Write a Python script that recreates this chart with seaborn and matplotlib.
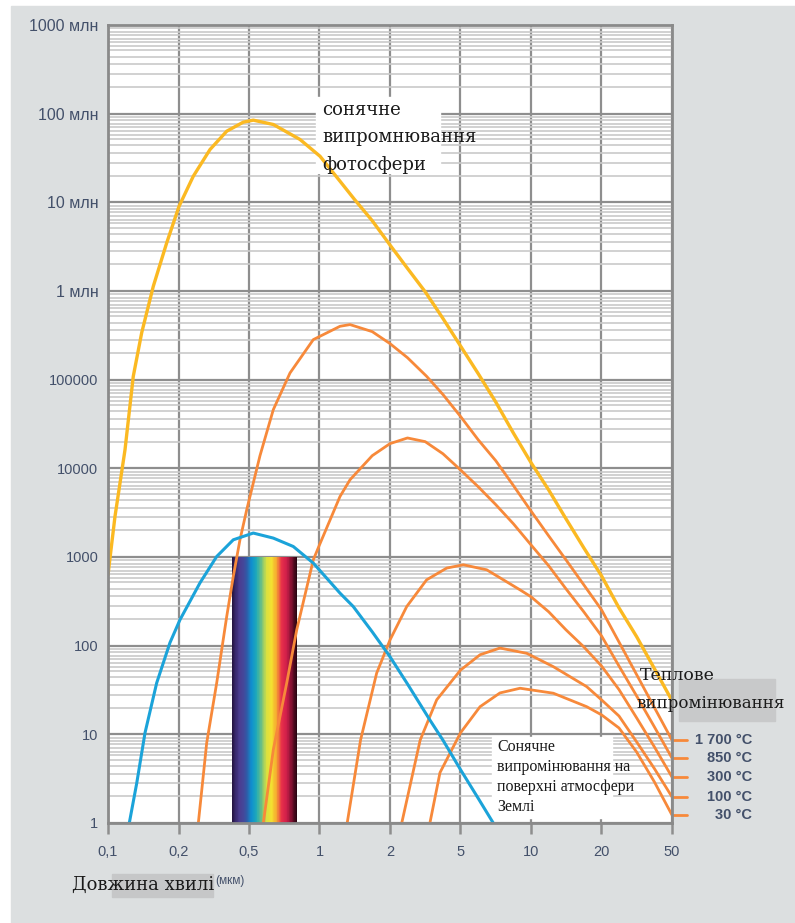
import numpy as np
import seaborn as sns
import matplotlib.pyplot as plt
from matplotlib.patches import Rectangle
from matplotlib.colors import LinearSegmentedColormap
from matplotlib.ticker import LogLocator, NullLocator
from matplotlib.transforms import blended_transform_factory

# axis ticks (x axis: 1-2-5 steps drawn at equal spacing)
x_ticks = [0.1, 0.2, 0.5, 1, 2, 5, 10, 20, 50]
x_tick_labels = ['0,1', '0,2', '0,5', '1', '2', '5', '10', '20', '50']
y_ticks = [1, 10, 100, 1e3, 1e4, 1e5, 1e6, 1e7, 1e8, 1e9]
y_tick_labels = ['1', '10', '100', '1000', '10000', '100000',
                 '1 млн', '10 млн', '100 млн', '1000 млн']

# sun photosphere (yellow)
wl_sun = [0.1, 0.1071, 0.1182, 0.1282, 0.1393, 0.1561, 0.1781, 0.2013, 0.2424, 0.3012,
          0.3742, 0.4642, 0.5214, 0.635, 0.8253, 1.005, 1.2235, 1.41, 1.68, 2, 2.51,
          3.16, 3.98, 5, 5.95, 7.07, 8.41, 10, 11.9, 14.1, 16.8, 20, 25.1, 31.6, 39.8, 50]
sun = [630, 2860, 1.62e4, 1.09e5, 3.39e5, 1.13e6, 3.49e6, 9.0e6, 1.97e7, 3.94e7,
       6.34e7, 8.02e7, 8.45e7, 7.55e7, 5.12e7, 3.31e7, 1.73e7, 1.08e7, 6.2e6, 3.3e6, 1.8e6,
       9.8e5, 4.9e5, 2.4e5, 1.17e5, 5.6e4, 2.5e4, 1.16e4, 5.7e3, 2.7e3, 1.27e3, 614, 267,
       126, 55, 24]

# sun at the earth surface (blue)
wl_earth = [0.1233, 0.1326, 0.1439, 0.1614, 0.1839, 0.2039, 0.2646, 0.3286, 0.4076,
            0.5214, 0.635, 0.7726, 0.941, 1.2235, 1.394, 1.68, 2, 2.51, 3.36, 3.98, 5,
            5.95, 6.9]
earth = [1, 2.8, 10.4, 38, 108, 196, 512, 1013, 1563,
         1862, 1634, 1314, 853, 391, 276, 143, 75, 37, 14.5, 8.6, 4,
         1.9, 1]

# thermal radiation (orange)
wl_1700 = [0.2588, 0.2885, 0.3286, 0.3742, 0.4076, 0.4446, 0.4854, 0.5571, 0.635, 0.7483,
           0.941, 1.2235, 1.35, 1.68, 2, 2.51, 3.22, 3.98, 5, 5.95, 7.07, 8.41, 10, 11.9,
           14.1, 16.8, 20, 25.1, 31.6, 39.8, 50]
t_1700 = [1, 8, 38, 213, 603, 1563, 3410, 1.39e4, 4.59e4, 1.19e5,
          2.83e5, 4.0e5, 4.18e5, 3.48e5, 2.55e5, 1.77e5, 1.09e5, 6.8e4, 3.85e4, 2.1e4,
          1.22e4, 6.4e3, 3.3e3, 1.73e3, 930, 486, 254, 110, 47, 20, 8.6]
wl_850 = [0.5757, 0.635, 0.7245, 0.7995, 0.941, 1, 1.2235, 1.35, 1.68, 2, 2.51, 3.16,
          3.98, 5, 5.95, 7.07, 8.41, 10, 11.9, 14.1, 16.8, 20, 25.1, 31.6, 39.8, 50]
t_850 = [1, 6.7, 38, 151, 930, 1370, 4820, 7430, 1.39e4, 1.9e4, 2.2e4, 2.0e4,
         1.46e4, 9.6e3, 6.2e3, 3.9e3, 2.37e3, 1370, 796, 438, 241, 129, 59, 27, 12.1, 5.4]
wl_300 = [1.313, 1.497, 1.754, 2, 2.485, 3.22, 4.18, 5.14, 6.47, 8.98, 10, 11.9, 14.1,
          16.8, 20, 25.1, 31.6, 39.8, 50]
t_300 = [1, 8.6, 49, 116, 276, 553, 750, 817, 717, 426, 356, 241, 151,
         97, 59, 32, 15.3, 7.2, 3.3]
wl_100 = [2.33, 2.96, 3.67, 5, 6.06, 7.37, 9.59, 12.45, 17.29, 20, 25.1, 31.6, 39.8, 50]
t_100 = [1, 8.6, 24.5, 53, 79, 94, 82, 58, 34.5, 24.5, 16.1, 8.2, 4.1, 1.97]
wl_30 = [3.36, 3.83, 5, 6.06, 7.37, 8.98, 12.45, 17.29, 20, 25.1, 31.6, 39.8, 50]
t_30 = [1, 3.7, 10.4, 20.5, 29.3, 33.1, 29.1, 20.5, 16.6, 11.8, 6.3, 2.9, 1.23]
temp_labels = ['1 700 °C', '850 °C', '300 °C', '100 °C', '30 °C']

# visible light band
visible_range = [0.4, 0.8]
visible_height = [1, 1000]
spectrum_colors = ['#24143f', '#3a2a70', '#4a3d91', '#44479a', '#2e5ca8', '#0f90cf',
                   '#20aab8', '#70c080', '#d8e040', '#f4e030', '#f5a830', '#e8304a',
                   '#d01f4a', '#801030', '#2a0512']

sns.set_theme(style='white')
plt.rcParams['font.family'] = ['Liberation Sans', 'DejaVu Sans']

lt = np.log10(x_ticks)
idx = np.arange(len(x_ticks))


def fwd(x):
    lx = np.log10(np.maximum(np.asarray(x, float), 1e-12))
    out = np.interp(lx, lt, idx)
    out = np.where(lx < lt[0], (lx - lt[0]) / (lt[1] - lt[0]), out)
    out = np.where(lx > lt[-1], idx[-1] + (lx - lt[-1]) / (lt[-1] - lt[-2]), out)
    return out


def inv(p):
    p = np.asarray(p, float)
    out = np.interp(p, idx, lt)
    out = np.where(p < 0, lt[0] + p * (lt[1] - lt[0]), out)
    out = np.where(p > idx[-1], lt[-1] + (p - idx[-1]) * (lt[-1] - lt[-2]), out)
    return 10 ** out


W, H = 795, 923
fig = plt.figure(figsize=(W / 100, H / 100), dpi=100)
fig.patch.set_facecolor('white')
fig.add_artist(Rectangle((11 / W, 0), 1, (H - 6) / H, transform=fig.transFigure,
                         color='#dcdfe0', zorder=-10))
ax = fig.add_axes([108 / W, 1 - 823 / H, 564 / W, 798 / H])
ax.set_facecolor('white')
ax.set_xscale('function', functions=(fwd, inv))
ax.set_yscale('log')

# spectrum band
spec_cmap = LinearSegmentedColormap.from_list('spec', spectrum_colors)
xe = np.geomspace(visible_range[0], visible_range[1], 121)
ax.pcolormesh(xe, visible_height, np.linspace(0, 1, 120)[None, :], cmap=spec_cmap,
              shading='flat', zorder=1.5)

orange = '#f7893a'
sns.lineplot(x=wl_sun, y=sun, ax=ax, color='#fbb922', linewidth=2.4, zorder=2,
             estimator=None, sort=False)
for wl, t in [(wl_1700, t_1700), (wl_850, t_850), (wl_300, t_300),
              (wl_100, t_100), (wl_30, t_30)]:
    sns.lineplot(x=wl, y=t, ax=ax, color=orange, linewidth=2, zorder=2,
                 estimator=None, sort=False)
sns.lineplot(x=wl_earth, y=earth, ax=ax, color='#1ba3d9', linewidth=2.2, zorder=2.1,
             estimator=None, sort=False)

ax.set_xlim(x_ticks[0], x_ticks[-1])
ax.set_ylim(y_ticks[0], y_ticks[-1])
ax.set_xticks(x_ticks, labels=x_tick_labels)
ax.xaxis.set_minor_locator(NullLocator())
ax.set_yticks(y_ticks, labels=y_tick_labels)
ax.yaxis.set_minor_locator(LogLocator(base=10, subs=[2, 2.8, 3.6, 4.4, 5.2, 5.8, 6.4,
                                                     7, 7.7, 8.4, 9.2], numticks=200))
ax.set_axisbelow(True)
ax.grid(which='major', axis='both', color='#8e8e8e', linewidth=1.6)
ax.grid(which='minor', axis='y', color='#cacaca', linewidth=1.2)
ax.tick_params(axis='x', which='major', length=8, width=1.8, color='#8e8e8e',
               labelsize=10.5, labelcolor='#43506a', pad=8, direction='out', bottom=True)
ax.tick_params(axis='y', which='both', length=0, labelsize=10.5, labelcolor='#43506a', pad=7)
for lab in ax.get_yticklabels():
    if 'млн' in lab.get_text():
        lab.set_fontsize(11.5)
for s in ax.spines.values():
    s.set_color('#8a8a8a')
    s.set_linewidth(2)
ax.set_xlabel('')
ax.set_ylabel('')

# white box behind the photosphere caption
ax.add_artist(Rectangle((316 / W, 1 - 173 / H), 124 / W, 76 / H,
                        transform=fig.transFigure, color='white', zorder=1))
for i, line in enumerate(['сонячне', 'випромнювання', 'фотосфери']):
    fig.text(322 / W, 1 - (110 + 27.5 * i) / H, line, family='DejaVu Serif',
             fontsize=13, color='#1a1a1a', va='center', zorder=5)

# box + caption for solar radiation at the surface
ax.add_artist(Rectangle((492 / W, 1 - 818 / H), 120 / W, 81 / H,
                        transform=fig.transFigure, color='white', zorder=1))
fig.text(497 / W, 1 - 739 / H, 'Сонячне\nвипромінювання на\nповерхні атмосфери\nЗемлі',
         family='Liberation Serif', fontsize=11.5, color='#1a1a1a', va='top',
         linespacing=1.32, zorder=5)

# thermal radiation caption and temperature labels
fig.add_artist(Rectangle((679 / W, 1 - 721 / H), 96 / W, 42 / H,
                         transform=fig.transFigure, color='#c8c9ca', zorder=-5))
fig.text(640 / W, 1 - 676 / H, 'Теплове', family='DejaVu Serif', fontsize=12.5,
         color='#1a1a1a', va='center')
fig.text(636 / W, 1 - 703 / H, 'випромінювання', family='DejaVu Serif', fontsize=12,
         color='#1a1a1a', va='center')
blend = blended_transform_factory(ax.transAxes, ax.transData)
for lab, t in zip(temp_labels, [t_1700, t_850, t_300, t_100, t_30]):
    ax.plot([1.0, 1.027], [t[-1], t[-1]], color=orange, linewidth=2,
            transform=blend, clip_on=False)
    ax.text(1.142, t[-1], lab, transform=blend, ha='right', va='center',
            fontsize=10.5, fontweight='bold', color='#43506a')

# x axis label
fig.add_artist(Rectangle((112 / W, 1 - 897 / H), 101 / W, 23 / H,
                         transform=fig.transFigure, color='#c6c7c8', zorder=-5))
fig.text(72 / W, 1 - 885 / H, 'Довжина хвилі', family='DejaVu Serif', fontsize=13,
         color='#1a1a1a', va='center')
fig.text(215 / W, 1 - 881 / H, '(мкм)', fontsize=8.5, color='#43506a', va='center')

fig.savefig('out.png', dpi=100)
